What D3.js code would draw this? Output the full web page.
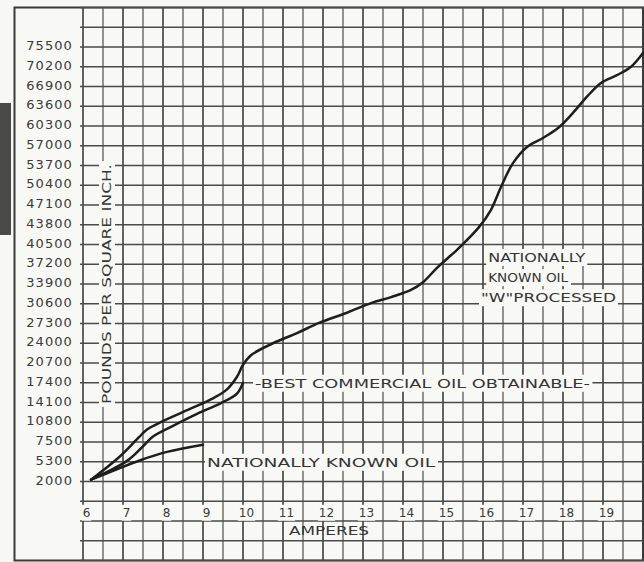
<!DOCTYPE html>
<html>
<head>
<meta charset="utf-8">
<script src="https://cdn.jsdelivr.net/npm/d3@7/dist/d3.min.js"></script>
<style>
  body { margin: 0; background: #f7f7f3; }
  svg { display: block; }
  text { font-family: "DejaVu Sans", sans-serif; fill: #353535; }
</style>
</head>
<body>
<svg id="chart" width="644" height="562"></svg>
<script>
// amperes along the bottom
const ampTicks = [6, 7, 8, 9, 10, 11, 12, 13, 14, 15, 16, 17, 18, 19];
// pounds per square inch, bottom to top (not evenly stepped, as printed)
const psiTicks = [2000, 5300, 7500, 10800, 14100, 17400, 20700, 24000, 27300, 30600, 33900, 37200,
  40500, 43800, 47100, 50400, 53700, 57000, 60300, 63600, 66900, 70200, 75500];

// Nationally known oil "W" processed
const wAmps = [6.2, 6.9, 7.4, 7.6, 8.0, 8.7, 9.25, 9.6, 9.85, 10.0, 10.2, 10.75, 11.35, 11.9, 12.6,
  13.2, 13.7, 14.2, 14.5, 14.85, 15.2, 15.35, 15.9, 16.2, 16.45, 16.75, 17.1, 17.5, 17.9, 18.25,
  18.6, 18.95, 19.35, 19.7, 20.0];
const wPsi = [2300, 5800, 8300, 9600, 11000, 13100, 14800, 16300, 18400, 20400, 22000, 24000, 25700,
  27400, 29100, 30700, 31700, 32900, 34200, 36600, 38700, 39600, 43400, 46300, 50100, 54100, 56800,
  58300, 60100, 62500, 65200, 67500, 68800, 70200, 73900];

// Best commercial oil obtainable
const bestAmps = [6.2, 7.1, 7.45, 7.75, 8.25, 8.85, 9.45, 9.85, 10.0];
const bestPsi = [2300, 5400, 6800, 8400, 10200, 12200, 14000, 15600, 17400];

// Nationally known oil
const natAmps = [6.2, 7.45, 8.1, 9.0];
const natPsi = [2300, 5500, 6400, 7200];

const svg = d3.select("#chart");

const x = d3.scaleLinear().domain([6, 20]).range([83, 643]);
// graph paper rows: 28 rows, psi labels sit on rows 2..24
const rowY = d3.scaleLinear().domain([0, 28]).range([7.5, 560.5]);
const y = d3.scaleLinear()
  .domain(psiTicks)
  .range(psiTicks.map((d, i) => rowY(24 - i)));

// scan edge on the left
svg.append("rect")
  .attr("x", 0).attr("y", 103).attr("width", 11).attr("height", 132)
  .attr("fill", "#4a4a48");

// outer frame
svg.append("rect")
  .attr("x", 14.5).attr("y", rowY(0)).attr("width", x(20) - 14.5).attr("height", rowY(28) - rowY(0))
  .attr("fill", "#f8f8f4")
  .attr("stroke", "#3a3a3a")
  .attr("stroke-width", 2);

// grid
const grid = svg.append("g").attr("class", "grid");
grid.selectAll("line.v")
  .data(d3.range(0, 29).map(i => 6 + i / 2))
  .enter().append("line")
  .attr("class", "v")
  .attr("x1", d => x(d)).attr("x2", d => x(d))
  .attr("y1", rowY(0)).attr("y2", rowY(28))
  .attr("stroke", d => Number.isInteger(d) ? "#3c3c3c" : "#5a5a5a")
  .attr("stroke-width", d => Number.isInteger(d) ? 1.6 : 1.3);

grid.selectAll("line.h")
  .data(d3.range(0, 29))
  .enter().append("line")
  .attr("class", "h")
  .attr("x1", x(6) - 3).attr("x2", x(20))
  .attr("y1", d => rowY(d)).attr("y2", d => rowY(d))
  .attr("stroke", "#4a4a4a")
  .attr("stroke-width", 1.4);

// knock out paper behind a label
function knockOut(sel, pad) {
  sel.each(function () {
    const b = this.getBBox();
    const t = this.getAttribute("transform");
    d3.select(this.parentNode).insert("rect", () => this)
      .attr("x", b.x - pad).attr("y", b.y - 1)
      .attr("width", b.width + pad * 2).attr("height", b.height + 2)
      .attr("transform", t)
      .attr("fill", "#f8f8f4");
  });
}

// y axis
const yAxis = svg.append("g")
  .attr("transform", `translate(${x(6)},0)`)
  .call(d3.axisLeft(y).tickValues(psiTicks).tickSize(0).tickPadding(10).tickFormat(d => d));
yAxis.select(".domain").remove();
yAxis.selectAll("text")
  .attr("dy", "0.2em")
  .style("font-size", "13px")
  .style("letter-spacing", "1.1px")
  .style("fill", "#3a3a3a");

// x axis labels inside the paper
const xAxis = svg.append("g")
  .attr("transform", `translate(3,${rowY(25)})`)
  .call(d3.axisBottom(x).tickValues(ampTicks).tickSize(0).tickPadding(7).tickFormat(d => d));
xAxis.select(".domain").remove();
xAxis.selectAll("text")
  .style("font-size", "12px")
  .style("fill", "#3a3a3a");
knockOut(xAxis.selectAll("text"), 1);

// axis titles
const ann = svg.append("g");
const yTitle = ann.append("text")
  .attr("transform", `translate(${x(6) + 28},${rowY(14)}) rotate(-90)`)
  .attr("text-anchor", "middle")
  .attr("textLength", 240)
  .attr("lengthAdjust", "spacingAndGlyphs")
  .style("font-size", "12px")
  .text("POUNDS PER SQUARE INCH.");

ann.append("text")
  .attr("x", x(11.15)).attr("y", rowY(26) + 14)
  .attr("textLength", 80)
  .attr("lengthAdjust", "spacingAndGlyphs")
  .style("font-size", "12px")
  .text("AMPERES");

// curves
const line = d3.line()
  .x(d => x(d[0]))
  .y(d => y(d[1]))
  .curve(d3.curveCatmullRom.alpha(0.5));

const series = [
  d3.zip(wAmps, wPsi),
  d3.zip(bestAmps, bestPsi),
  d3.zip(natAmps, natPsi)
];
svg.append("g").selectAll("path")
  .data(series)
  .enter().append("path")
  .attr("d", line)
  .attr("fill", "none")
  .attr("stroke", "#1e1e1e")
  .attr("stroke-width", 2.5)
  .attr("stroke-linecap", "round");

// curve labels
const labels = svg.append("g");
labels.append("text")
  .attr("x", x(10.3)).attr("y", y(17400) + 5)
  .attr("textLength", 335)
  .attr("lengthAdjust", "spacingAndGlyphs")
  .style("font-size", "13px")
  .text("-BEST COMMERCIAL OIL OBTAINABLE-");

labels.append("text")
  .attr("x", x(9.1)).attr("y", y(5300) + 5)
  .attr("textLength", 228)
  .attr("lengthAdjust", "spacingAndGlyphs")
  .style("font-size", "13px")
  .text("NATIONALLY KNOWN OIL");

const wLines = ["NATIONALLY", "KNOWN OIL", "\"W\"PROCESSED"];
labels.selectAll("text.w")
  .data(wLines)
  .enter().append("text")
  .attr("class", "w")
  .attr("x", (d, i) => i === 2 ? x(15.95) : x(16.13))
  .attr("y", (d, i) => rowY(12.63 + i * 1.02) + 5)
  .attr("textLength", (d, i) => [97, 80, 135][i])
  .attr("lengthAdjust", "spacingAndGlyphs")
  .style("font-size", "13px")
  .text(d => d);

knockOut(labels.selectAll("text"), 2);
knockOut(yTitle, 3);
</script>
</body>
</html>
